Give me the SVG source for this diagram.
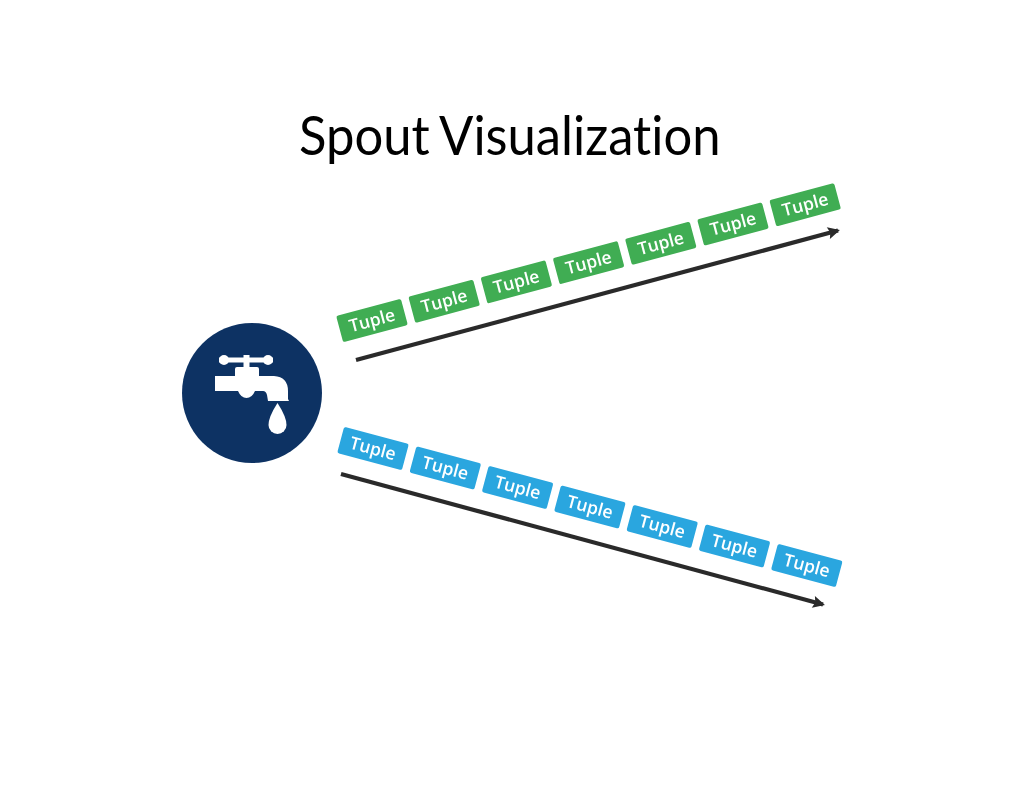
<svg xmlns="http://www.w3.org/2000/svg" width="1024" height="791" viewBox="0 0 1024 791">
<style>
.t{font-family:"Open Sans","Liberation Sans",sans-serif;font-size:17.500px;font-weight:600;fill:#fff;text-anchor:middle}
.g{fill:#3fad52}.b{fill:#2aa6df}
.a{stroke:#2b2b2b;stroke-width:4.200;fill:none}
.soft{filter:url(#blur)}
</style>
<defs>
<marker id="ah" markerUnits="userSpaceOnUse" markerWidth="16" markerHeight="16" refX="11" refY="7" orient="auto"><path d="M1 1L13 7L1 13L3 7Z" fill="#2b2b2b"/></marker>
<filter id="blur" x="-5%" y="-5%" width="110%" height="110%"><feGaussianBlur stdDeviation="0.45"/></filter>
<rect id="r" x="-33.500" y="-13.500" width="67" height="27" rx="2"/>
</defs>
<rect width="1024" height="791" fill="#fff"/>
<text id="title" transform="translate(299 155) scale(.94 1)" font-family="Lato,'Liberation Sans',sans-serif" font-size="54" style="font-variant-ligatures:none">Spout<tspan x="149">Visualization</tspan></text>
<g id="connectors" class="soft">
<line class="a" x1="356" y1="360" x2="838" y2="230.500" marker-end="url(#ah)"/>
<line class="a" x1="341" y1="474" x2="823" y2="604.500" marker-end="url(#ah)"/>
</g>
<g id="spout" class="soft">
<circle cx="252" cy="393" r="70" fill="#0d3263"/>
<g fill="#fff">
<rect x="219" y="357.500" width="54" height="5"/>
<circle cx="224" cy="360" r="5"/><circle cx="268" cy="360" r="5"/>
<rect x="243.500" y="355" width="6" height="14"/>
<path d="M235 376L235 369Q235 367 237 367L257 367Q259 367 259 369L259 376L274 376Q288 377 288 391L288 399L289 401L268 401L267 395Q266 391 263 391L255 391Q252 398 246.500 398Q241 398 238 391L215 391L215 376Z"/>
<path d="M277.500 403Q268.500 417 268.500 425A9 9 0 0 0 286.500 425Q286.500 417 277.500 403Z"/>
</g>
</g>
<g id="green-tuples" class="soft">
<g id="g1" transform="translate(372 320.500) rotate(-15)"><use href="#r" class="g"/><text class="t" y="6">Tuple</text></g>
<g id="g2" transform="translate(444.200 301.200) rotate(-15)"><use href="#r" class="g"/><text class="t" y="6">Tuple</text></g>
<g id="g3" transform="translate(516.400 281.900) rotate(-15)"><use href="#r" class="g"/><text class="t" y="6">Tuple</text></g>
<g id="g4" transform="translate(588.600 262.600) rotate(-15)"><use href="#r" class="g"/><text class="t" y="6">Tuple</text></g>
<g id="g5" transform="translate(660.800 243.300) rotate(-15)"><use href="#r" class="g"/><text class="t" y="6">Tuple</text></g>
<g id="g6" transform="translate(733 224) rotate(-15)"><use href="#r" class="g"/><text class="t" y="6">Tuple</text></g>
<g id="g7" transform="translate(805.200 204.700) rotate(-15)"><use href="#r" class="g"/><text class="t" y="6">Tuple</text></g>
</g>
<g id="blue-tuples" class="soft">
<g id="b1" transform="translate(373 448.500) rotate(15)"><use href="#r" class="b"/><text class="t" y="6">Tuple</text></g>
<g id="b2" transform="translate(445.300 468) rotate(15)"><use href="#r" class="b"/><text class="t" y="6">Tuple</text></g>
<g id="b3" transform="translate(517.600 487.500) rotate(15)"><use href="#r" class="b"/><text class="t" y="6">Tuple</text></g>
<g id="b4" transform="translate(589.900 507) rotate(15)"><use href="#r" class="b"/><text class="t" y="6">Tuple</text></g>
<g id="b5" transform="translate(662.200 526.500) rotate(15)"><use href="#r" class="b"/><text class="t" y="6">Tuple</text></g>
<g id="b6" transform="translate(734.500 546) rotate(15)"><use href="#r" class="b"/><text class="t" y="6">Tuple</text></g>
<g id="b7" transform="translate(806.800 565.500) rotate(15)"><use href="#r" class="b"/><text class="t" y="6">Tuple</text></g>
</g>
</svg>
